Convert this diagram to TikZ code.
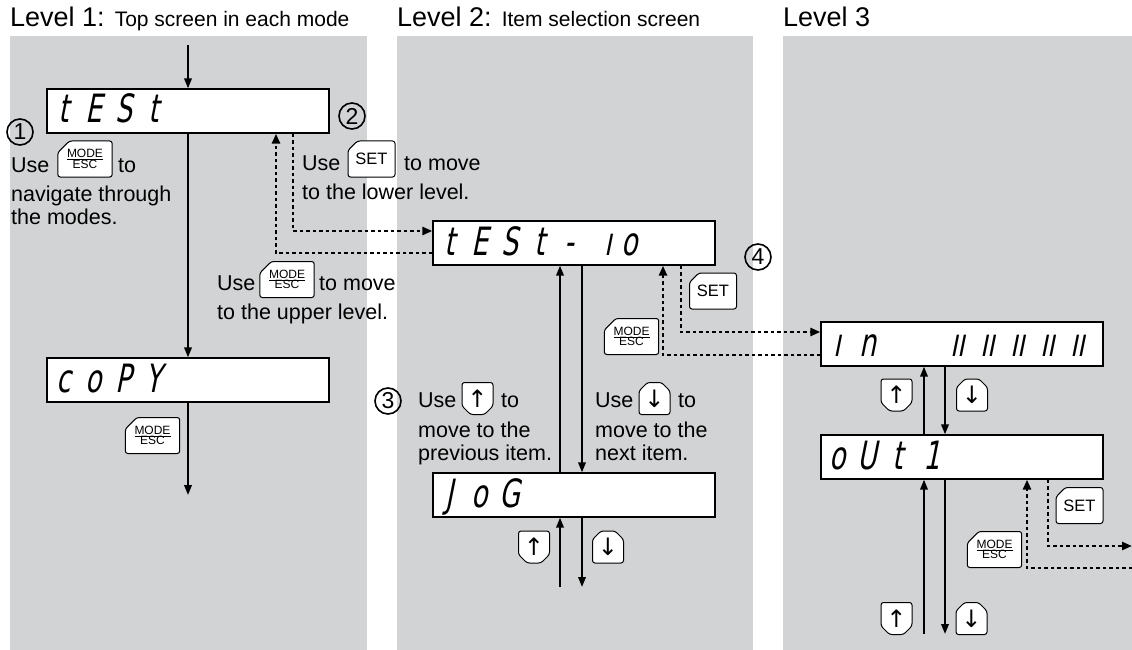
\documentclass[tikz,border=0pt]{standalone}
\usepackage{fontspec}
\setmainfont{Liberation Sans}
\newfontfamily\segfont[FakeStretch=0.68,FakeSlant=0.2]{DejaVu Sans}
\newfontfamily\symfont{DejaVu Sans}
\usetikzlibrary{arrows.meta, shapes.misc, calc}

\definecolor{panelgray}{RGB}{209,211,212}
\newcommand{\segch}[1]{\makebox[30pt][l]{\hspace{3pt}\makebox[19pt][c]{#1}}}
\newcommand{\segrt}[1]{\makebox[30pt][r]{#1\hspace{5pt}}}
\newcommand{\modeesc}{$\frac{\mbox{MODE}}{\mbox{ESC}}$}

\tikzset{
  disp/.style={draw, line width=1.3pt, fill=white, minimum width=282pt, minimum height=44pt,
    inner sep=0pt, text height=34pt, text depth=10pt, font=\segfont\fontsize{39}{39}\selectfont},
  body/.style={anchor=base west, inner sep=0pt, font=\fontsize{21.5}{24}\selectfont},
  key/.style={draw, line width=1pt, fill=white, chamfered rectangle,
    chamfered rectangle corners=north west, chamfered rectangle xsep=8pt,
    rounded corners=2.5pt, minimum width=47pt, minimum height=36pt, inner sep=0pt},
  modekey/.style={key, font=\fontsize{12}{13}\selectfont},
  setkey/.style={key, font=\fontsize{16.5}{17}\selectfont},
  upkey/.style={key, chamfered rectangle corners={south west,south east},
    chamfered rectangle xsep=5pt, minimum width=31pt, minimum height=32pt,
    font=\symfont\fontsize{24}{24}\selectfont},
  downkey/.style={upkey, chamfered rectangle corners={north west,north east}},
  circnum/.style={draw, circle, line width=1.6pt, minimum size=26pt, inner sep=0pt,
    font=\fontsize{23}{23}\selectfont},
  arr/.style={line width=2pt, -{Triangle[length=10pt,width=7.5pt]}},
  dotarr/.style={line width=2.5pt, dash pattern=on 3.5pt off 3pt, -{Triangle[length=10pt,width=8pt]}}
}

\begin{document}
\begin{tikzpicture}[x=1pt, y=-1pt]
\useasboundingbox (0,0) rectangle (1132,650);

% panels
\fill [panelgray] (10,36) rectangle (367,650);
\fill [panelgray] (397,36) rectangle (753,650);
\fill [panelgray] (783,36) rectangle (1132,650);

\node (h1) at (10,27) [anchor=base west, inner sep=0pt, font=\fontsize{27}{29}\selectfont] {Level 1: {\fontsize{21}{23}\selectfont Top screen in each mode}};
\node (h2) at (397,27) [anchor=base west, inner sep=0pt, font=\fontsize{27}{29}\selectfont] {Level 2: {\fontsize{21}{23}\selectfont Item selection screen}};
\node (h3) at (783,27) [anchor=base west, inner sep=0pt, font=\fontsize{27}{29}\selectfont] {Level 3};

% displays
\node (test) at (188,111) [disp] {\makebox[274pt][l]{\segch{t}\segch{E}\segch{S}\segch{t}}};
\node (copy) at (188,380) [disp] {\makebox[274pt][l]{\segch{c}\segch{o}\segch{P}\segch{Y}}};
\node (testio) at (574,243) [disp] {\makebox[274pt][l]{\segch{t}\segch{E}\segch{S}\segch{t}\segch{-}\segrt{ı}\segch{o}}};
\node (jog) at (574,495) [disp] {\makebox[274pt][l]{\segch{J}\segch{o}\segch{G}}};
\node (in) at (962,344) [disp] {\makebox[274pt][l]{\segch{ı}\segch{n}\segch{}\segch{}\segch{ıı}\segch{ıı}\segch{ıı}\segch{ıı}\segch{ıı}}};
\node (out1) at (962,457) [disp] {\makebox[274pt][l]{\segch{o}\segch{U}\segch{t}\segrt{1}}};

% level 1
\coordinate (top1) at (188,45);
\coordinate (end1) at (188,495);
\draw [arr] (top1) -- (test);
\draw [arr] (test) -- (copy);
\draw [arr] (copy) -- (end1);
\draw [dotarr] ([xshift=105pt]test.south) |- ([yshift=12pt]testio.west);
\draw [dotarr] ([yshift=-10pt]testio.west) -| ([xshift=88pt]test.south);

\node (c1) at (20,132) [circnum] {1};
\node (c2) at (352,116) [circnum] {2};
\node (t1a) at (11,172) [body] {Use};
\node (k1) at (85,159) [modekey] {\modeesc};
\node (t1b) at (118,172) [body] {to};
\node (t1c) at (11,201) [body] {navigate through};
\node (t1d) at (11,224) [body] {the modes.};
\node (t2a) at (302,170) [body] {Use};
\node (k2) at (371.5,159) [setkey] {SET};
\node (t2b) at (404,170) [body] {to move};
\node (t2c) at (302,199) [body] {to the lower level.};
\node (t3a) at (217,290) [body] {Use};
\node (k3) at (287,279.5) [modekey] {\modeesc};
\node (t3b) at (319,290) [body] {to move};
\node (t3c) at (217,319) [body] {to the upper level.};
\node (k4) at (152.5,435.5) [modekey] {\modeesc};

% level 2
\coordinate (end2a) at (560,587);
\coordinate (end2b) at (582,587);
\draw [arr] ([xshift=-14pt]jog.north) -- ([xshift=-14pt]testio.south);
\draw [arr] ([xshift=8pt]testio.south) -- ([xshift=8pt]jog.north);
\draw [arr] (end2a) -- (end2a |- jog.south);
\draw [arr] (jog.south -| end2b) -- (end2b);
\draw [dotarr] ([xshift=107pt]testio.south) |- ([yshift=12pt]in.west);
\draw [dotarr] ([yshift=-11pt]in.west) -| ([xshift=89pt]testio.south);

\node (c3) at (388,401) [circnum] {3};
\node (c4) at (758,257) [circnum] {4};
\node (t4a) at (418,407) [body] {Use};
\node (k7) at (477.5,398.5) [upkey] {↑};
\node (t4b) at (501,407) [body] {to};
\node (t4c) at (418,437) [body] {move to the};
\node (t4d) at (418,460) [body] {previous item.};
\node (t5a) at (595,407) [body] {Use};
\node (k8) at (654.5,398.5) [downkey] {↓};
\node (t5b) at (678,407) [body] {to};
\node (t5c) at (595,437) [body] {move to the};
\node (t5d) at (595,460) [body] {next item.};
\node (k5) at (713,291) [setkey] {SET};
\node (k6) at (631.5,336.5) [modekey] {\modeesc};
\node (k9) at (534,547) [upkey] {↑};
\node (k10) at (608,547) [downkey] {↓};

% level 3
\coordinate (end3a) at (924,634);
\coordinate (end3b) at (945,634);
\coordinate (exit3a) at (1132,546);
\coordinate (exit3b) at (1132,568);
\draw [arr] ([xshift=-38pt]out1.north) -- ([xshift=-38pt]in.south);
\draw [arr] ([xshift=-17pt]in.south) -- ([xshift=-17pt]out1.north);
\draw [arr] (end3a) -- (end3a |- out1.south);
\draw [arr] (out1.south -| end3b) -- (end3b);
\draw [dotarr] ([xshift=86pt]out1.south) |- (exit3a);
\draw [dotarr] (exit3b) -| ([xshift=65pt]out1.south);

\node (k11) at (896.5,395) [upkey] {↑};
\node (k12) at (972,395) [downkey] {↓};
\node (k13) at (1079.5,505.5) [setkey] {SET};
\node (k14) at (994.5,549.5) [modekey] {\modeesc};
\node (k15) at (896.5,618.5) [upkey] {↑};
\node (k16) at (971.5,618.5) [downkey] {↓};
\end{tikzpicture}
\end{document}
